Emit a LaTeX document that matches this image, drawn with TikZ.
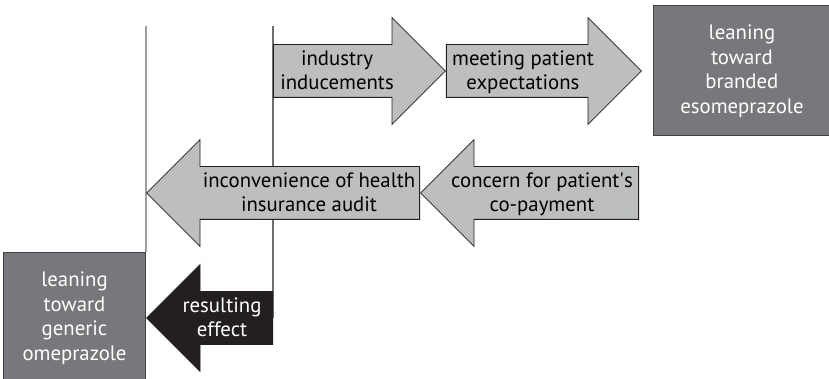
\documentclass[tikz,border=0pt]{standalone}
\usepackage{fontspec}
\setmainfont{PT Sans}
\usetikzlibrary{shapes.arrows,positioning,backgrounds}
\definecolor{arrowgray}{HTML}{BCBEC0}
\definecolor{boxgray}{HTML}{77787B}
\definecolor{boxline}{HTML}{414042}
\definecolor{inkblack}{HTML}{231F20}
\definecolor{rulelight}{HTML}{9D9FA2}
\definecolor{ruledark}{HTML}{6D6E71}

\begin{document}
\begin{tikzpicture}[x=1pt, y=1pt,
    flow/.style={single arrow, draw=inkblack, line width=0.8pt, fill=arrowgray,
      inner sep=0pt, text height=26pt, text depth=26pt,
      single arrow head extend=27pt, single arrow tip angle=90},
    flowleft/.style={flow, shape border rotate=180},
    effectarrow/.style={flowleft, fill=inkblack},
    flowtext/.style={align=center, inner sep=0pt, text height=45pt, text depth=7pt,
      font=\fontsize{20.8}{24.5}\selectfont},
    outcome/.style={draw=boxline, line width=1pt, fill=boxgray, text=white,
      align=center, inner sep=0pt, font=\fontsize{20.8}{24.5}\selectfont},
    rule/.style={line width=1.2pt, draw=rulelight}]
  \useasboundingbox (0,0) rectangle (829,379);
  % forces toward the branded drug
  \node[flow, minimum height=172pt, anchor=tail] (industry) at (273,308) {};
  \node[flowtext, xshift=64pt] (industrytext) at (industry.tail) {industry\\inducements};
  \node[flow, minimum height=195pt, anchor=tail] (meeting) at (industry.tip) {};
  \node[flowtext, xshift=77pt] (meetingtext) at (meeting.tail) {meeting patient\\expectations};
  \node[outcome, minimum width=177pt, minimum height=130pt, right=11pt of meeting]
    (branded) {leaning\\toward\\branded\\esomeprazole};
  % forces toward the generic drug
  \node[flowleft, minimum height=218pt, anchor=tail] (concern) at (639,186) {};
  \node[flowtext, xshift=-97pt] (concerntext) at (concern.tail)
    {concern for patient\textquotesingle s\\co-payment};
  \node[flowleft, minimum height=273pt, anchor=tail] (audit) at (concern.tip) {};
  \node[flowtext, xshift=-111pt] (audittext) at (audit.tail)
    {inconvenience of health\\insurance audit};
  \node[effectarrow, minimum height=126pt, anchor=tail] (effect) at (273,61) {};
  \node[flowtext, text=white, xshift=-51pt] (effecttext) at (effect.tail) {resulting\\effect};
  \node[outcome, minimum width=142pt, minimum height=130pt, left=0pt of effect]
    (generic) {leaning\\toward\\generic\\omeprazole};
  % time rules behind the arrows
  \begin{scope}[on background layer]
    \coordinate (ruletop) at (0,353);
    \draw[rule] (generic.north east |- ruletop) -- (generic.north east);
    \draw[rule, draw=ruledark] (industry.tail |- ruletop) -- (effect.tail);
  \end{scope}
\end{tikzpicture}
\end{document}
